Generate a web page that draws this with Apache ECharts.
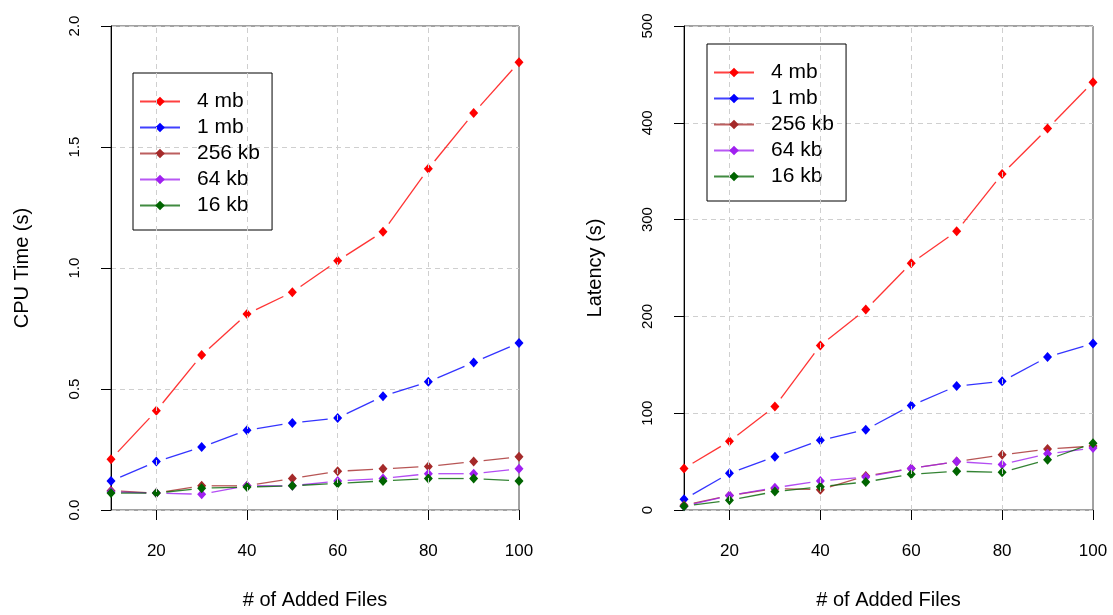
<!DOCTYPE html>
<html>
<head>
<meta charset="utf-8">
<script src="https://cdn.jsdelivr.net/npm/echarts@6/dist/echarts.min.js"></script>
<style>
  html, body { margin: 0; padding: 0; background: #fff; }
  #chart { width: 1113px; height: 615px; }
</style>
</head>
<body>
<div id="chart"></div>
<script>
// x: number of added files
const files = [10, 20, 30, 40, 50, 60, 70, 80, 90, 100];
const names = ['4 mb', '1 mb', '256 kb', '64 kb', '16 kb'];

// CPU time (s)
const cpu4mb  = [0.21, 0.41, 0.64, 0.81, 0.90, 1.03, 1.15, 1.41, 1.64, 1.85];
const cpu1mb  = [0.12, 0.20, 0.26, 0.33, 0.36, 0.38, 0.47, 0.53, 0.61, 0.69];
const cpu256k = [0.08, 0.07, 0.10, 0.10, 0.13, 0.16, 0.17, 0.18, 0.20, 0.22];
const cpu64k  = [0.075, 0.07, 0.065, 0.10, 0.10, 0.12, 0.13, 0.15, 0.15, 0.17];
const cpu16k  = [0.07, 0.07, 0.09, 0.095, 0.10, 0.11, 0.12, 0.13, 0.13, 0.12];

// Latency (s)
const lat4mb  = [43, 71, 107, 170, 207, 255, 288, 347, 394, 442];
const lat1mb  = [11, 38, 55, 72, 83, 108, 128, 133, 158, 172];
const lat256k = [5, 15, 22, 21, 35, 43, 50, 57, 63, 66];
const lat64k  = [4, 15, 23, 30, 34, 43, 50, 47, 58, 64];
const lat16k  = [4, 10, 19, 24, 29, 37, 40, 39, 52, 69];

const xTicks = [20, 40, 60, 80, 100];
const xGrid = [20, 40, 60, 80];

const colors = ['#ff0000', '#0000ff', '#a52a2a', '#a020f0', '#006400'];
const FONT = 'Liberation Sans';

const panels = [
  { title: 'CPU Time (s)', max: 2, step: 0.5, fmt: v => v.toFixed(1),
    data: [cpu4mb, cpu1mb, cpu256k, cpu64k, cpu16k] },
  { title: 'Latency (s)', max: 500, step: 100, fmt: v => String(v),
    data: [lat4mb, lat1mb, lat256k, lat64k, lat16k] },
];

const gridPos = [
  { left: 111, width: 408, top: 26, height: 485 },
  { left: 684, width: 409, top: 26, height: 485 },
];
const legendPos = [{ left: 133, top: 73 }, { left: 707, top: 44 }];

// R type="b": segments stop short of each point
const GAP = 10;
function renderSeg(params, api) {
  const a = api.coord([api.value(0), api.value(1)]);
  const b = api.coord([api.value(2), api.value(3)]);
  const dx = b[0] - a[0], dy = b[1] - a[1];
  const len = Math.sqrt(dx * dx + dy * dy);
  if (len <= 2 * GAP) return null;
  const ux = dx / len, uy = dy / len;
  return {
    type: 'line',
    shape: { x1: a[0] + ux * GAP, y1: a[1] + uy * GAP, x2: b[0] - ux * GAP, y2: b[1] - uy * GAP },
    style: { stroke: api.visual('color'), lineWidth: 1.3, opacity: 0.8 },
  };
}

const grid = [], xAxis = [], yAxis = [], series = [], legend = [];

panels.forEach((p, g) => {
  grid.push(Object.assign({ show: true, borderColor: '#444', borderWidth: 1 }, gridPos[g]));

  xAxis.push({
    gridIndex: g, type: 'value', min: 10, max: 100, interval: 10,
    axisLine: { show: false },
    axisTick: { show: true, customValues: xTicks, length: 10, lineStyle: { color: '#000' } },
    axisLabel: { customValues: xTicks, fontSize: 17, fontFamily: FONT, color: '#000', margin: 33 },
    splitLine: { show: false },
    name: '# of Added Files', nameLocation: 'middle', nameGap: 80,
    nameTextStyle: { fontSize: 20, fontFamily: FONT, color: '#000' },
  });

  yAxis.push({
    gridIndex: g, type: 'value', min: 0, max: p.max, interval: p.step,
    axisLine: { show: true, lineStyle: { color: '#000' } },
    axisTick: { show: true, length: 10, lineStyle: { color: '#000' } },
    axisLabel: { rotate: 90, formatter: p.fmt, fontSize: 15, fontFamily: FONT, color: '#000', margin: 29 },
    splitLine: { show: true, lineStyle: { color: '#cfcfcf', type: [5, 4] } },
    name: p.title, nameLocation: 'middle', nameGap: 79,
    nameTextStyle: { fontSize: 20, fontFamily: FONT, color: '#000' },
  });

  // vertical dashed grid lines
  series.push({
    type: 'line', xAxisIndex: g, yAxisIndex: g, data: [], silent: true, z: 1,
    markLine: {
      silent: true, symbol: ['none', 'none'], label: { show: false },
      lineStyle: { color: '#cfcfcf', type: [5, 4], width: 1 },
      data: xGrid.map(x => ({ xAxis: x })),
    },
  });

  p.data.forEach((vals, k) => {
    const segs = [];
    for (let i = 1; i < files.length; i++) segs.push([files[i - 1], vals[i - 1], files[i], vals[i]]);
    series.push({
      type: 'custom', xAxisIndex: g, yAxisIndex: g, silent: true, z: 3,
      itemStyle: { color: colors[k] },
      encode: { x: [0, 2], y: [1, 3] },
      renderItem: renderSeg,
      data: segs,
    });
    series.push({
      type: 'line', name: names[k], xAxisIndex: g, yAxisIndex: g, z: 4,
      data: files.map((x, i) => [x, vals[i]]),
      symbol: 'diamond', symbolSize: [9, 10], showSymbol: true,
      itemStyle: { color: colors[k] },
      lineStyle: { color: colors[k], opacity: 0 },
      emphasis: { disabled: true },
    });
  });

  legend.push(Object.assign({
    orient: 'vertical', data: names, selectedMode: false,
    itemWidth: 40, itemHeight: 12, itemGap: 5,
    padding: [18, 12, 14, 6],
    borderColor: '#000', borderWidth: 1, borderRadius: 0,
    lineStyle: { opacity: 0.75, width: 2 },
    textStyle: { fontSize: 21, fontFamily: FONT, color: '#000', padding: [0, 0, 0, 12] },
  }, legendPos[g]));
});

const chart = echarts.init(document.getElementById('chart'));
chart.setOption({
  backgroundColor: '#fff',
  animation: false,
  grid, xAxis, yAxis, series, legend,
});
</script>
</body>
</html>
